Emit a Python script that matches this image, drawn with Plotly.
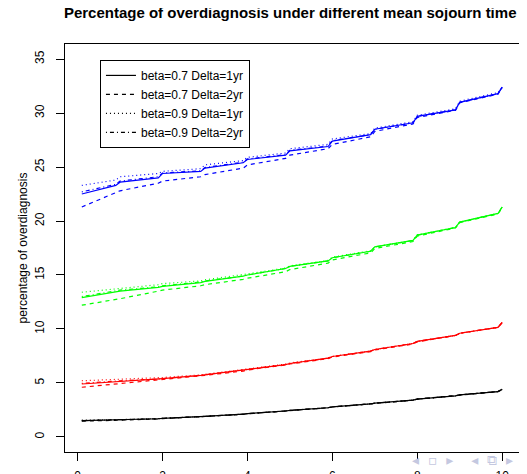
import plotly.graph_objects as go

# x grid (mean sojourn time)
x_vals = [0.1, 0.9, 1.0, 1.9, 2.0, 2.9, 3.0, 3.9, 4.0, 4.9, 5.0,
          5.9, 6.0, 6.9, 7.0, 7.9, 8.0, 8.9, 9.0, 9.9, 10.0]

legend_labels = ["beta=0.7 Delta=1yr", "beta=0.7 Delta=2yr",
                 "beta=0.9 Delta=1yr", "beta=0.9 Delta=2yr"]

black_b07_d1 = [1.5, 1.55, 1.57, 1.68, 1.71, 1.86, 1.9, 2.1, 2.15, 2.4, 2.45, 2.7, 2.78, 3.05, 3.12, 3.4, 3.5, 3.8, 3.9, 4.2, 4.4]
black_b07_d2 = [1.45, 1.52, 1.54, 1.66, 1.69, 1.85, 1.89, 2.09, 2.14, 2.39, 2.44, 2.7, 2.77, 3.05, 3.12, 3.4, 3.5, 3.8, 3.9, 4.2, 4.4]
black_b09_d1 = [1.55, 1.58, 1.6, 1.7, 1.73, 1.87, 1.91, 2.11, 2.16, 2.41, 2.46, 2.71, 2.78, 3.05, 3.12, 3.4, 3.5, 3.8, 3.9, 4.2, 4.4]
black_b09_d2 = [1.5, 1.55, 1.57, 1.68, 1.71, 1.86, 1.9, 2.1, 2.15, 2.4, 2.45, 2.7, 2.78, 3.05, 3.12, 3.4, 3.5, 3.8, 3.9, 4.2, 4.4]

red_b07_d1 = [4.9, 5.1, 5.15, 5.35, 5.4, 5.7, 5.75, 6.15, 6.25, 6.7, 6.8, 7.3, 7.45, 7.95, 8.1, 8.65, 8.85, 9.4, 9.6, 10.15, 10.6]
red_b07_d2 = [4.6, 4.9, 4.95, 5.25, 5.3, 5.6, 5.7, 6.1, 6.2, 6.65, 6.75, 7.25, 7.4, 7.9, 8.05, 8.6, 8.8, 9.4, 9.6, 10.15, 10.6]
red_b09_d1 = [5.2, 5.3, 5.35, 5.45, 5.5, 5.75, 5.8, 6.2, 6.3, 6.75, 6.85, 7.3, 7.45, 7.95, 8.1, 8.65, 8.85, 9.4, 9.6, 10.15, 10.6]
red_b09_d2 = [4.95, 5.15, 5.2, 5.35, 5.4, 5.7, 5.75, 6.15, 6.25, 6.7, 6.8, 7.3, 7.45, 7.95, 8.1, 8.65, 8.85, 9.4, 9.6, 10.15, 10.6]

green_b07_d1 = [12.9, 13.4, 13.5, 13.85, 13.95, 14.3, 14.4, 14.9, 15.0, 15.6, 15.8, 16.3, 16.6, 17.2, 17.6, 18.2, 18.7, 19.4, 19.9, 20.7, 21.3]
green_b07_d2 = [12.2, 12.7, 12.8, 13.5, 13.6, 14.0, 14.1, 14.6, 14.7, 15.3, 15.5, 16.1, 16.4, 17.05, 17.45, 18.1, 18.6, 19.35, 19.85, 20.65, 21.25]
green_b09_d1 = [13.4, 13.7, 13.8, 14.1, 14.2, 14.45, 14.55, 15.0, 15.1, 15.65, 15.85, 16.35, 16.65, 17.25, 17.6, 18.2, 18.7, 19.4, 19.9, 20.7, 21.3]
green_b09_d2 = [13.0, 13.5, 13.6, 13.9, 14.0, 14.35, 14.45, 14.9, 15.0, 15.6, 15.8, 16.3, 16.6, 17.2, 17.6, 18.2, 18.7, 19.4, 19.9, 20.7, 21.3]

blue_b07_d1 = [22.5, 23.3, 23.6, 24.0, 24.4, 24.6, 24.9, 25.4, 25.7, 26.1, 26.5, 26.9, 27.4, 28.0, 28.5, 29.1, 29.7, 30.3, 31.0, 31.8, 32.4]
blue_b07_d2 = [21.3, 22.6, 22.8, 23.5, 23.7, 24.1, 24.3, 24.9, 25.2, 25.8, 26.1, 26.7, 27.1, 27.8, 28.3, 29.0, 29.6, 30.25, 30.95, 31.75, 32.35]
blue_b09_d1 = [23.3, 23.8, 24.1, 24.4, 24.6, 24.85, 25.2, 25.6, 25.9, 26.3, 26.7, 27.1, 27.6, 28.1, 28.6, 29.2, 29.8, 30.4, 31.1, 31.9, 32.4]
blue_b09_d2 = [22.7, 23.4, 23.7, 24.1, 24.45, 24.65, 24.95, 25.45, 25.75, 26.15, 26.55, 26.95, 27.45, 28.0, 28.5, 29.1, 29.7, 30.3, 31.0, 31.8, 32.4]

x_ticks = [0, 2, 4, 6, 8, 10]
y_ticks = [0, 5, 10, 15, 20, 25, 30, 35]

dashes = ["solid", "4px,4px", "1px,3px", "1px,3px,4px,3px"]
groups = [
    ("black", [black_b07_d1, black_b07_d2, black_b09_d1, black_b09_d2]),
    ("#ff0000", [red_b07_d1, red_b07_d2, red_b09_d1, red_b09_d2]),
    ("#00ff00", [green_b07_d1, green_b07_d2, green_b09_d1, green_b09_d2]),
    ("#0000ff", [blue_b07_d1, blue_b07_d2, blue_b09_d1, blue_b09_d2]),
]

fig = go.Figure()
for color, series in groups:
    for i, ys in enumerate(series):
        fig.add_trace(go.Scatter(
            x=x_vals, y=ys, mode="lines",
            line=dict(color=color, width=1.2, dash=dashes[i]),
            name=legend_labels[i],
            showlegend=(color == "black"),
            hoverinfo="skip",
        ))

# the page body has an 8px default margin, so the figure is 8px smaller
font_family = "Liberation Sans, Arial, Helvetica, sans-serif"
fig.update_layout(
    width=519, height=466,
    margin=dict(l=57, r=8, t=36, b=22),
    paper_bgcolor="white", plot_bgcolor="white",
    font=dict(family=font_family, size=12, color="black"),
    title=dict(text="<b>Percentage of overdiagnosis under different mean sojourn time</b>",
               xref="paper", x=0.496, xanchor="center", y=0.99, yanchor="middle",
               font=dict(size=15, color="black")),
    legend=dict(x=0.077, y=0.961, xanchor="left", yanchor="top",
                bordercolor="black", borderwidth=1, bgcolor="white",
                font=dict(size=12), tracegroupgap=0),
    xaxis=dict(range=[-0.296, 10.396], tickvals=x_ticks, ticks="outside",
               ticklen=8, tickcolor="black", showgrid=False, zeroline=False,
               showline=True, linecolor="black", linewidth=1, mirror=True,
               tickfont=dict(size=12), ticklabelstandoff=5, automargin=False),
    yaxis=dict(range=[-1.4, 36.4], tickvals=y_ticks, ticks="outside",
               ticklen=8, tickcolor="black", showgrid=False, zeroline=False,
               showline=True, linecolor="black", linewidth=1, mirror=True,
               tickangle=-90, tickfont=dict(size=12), ticklabelstandoff=7,
               automargin=False,
               title=dict(text="percentage of overdiagnosis", font=dict(size=12), standoff=3)),
    annotations=[dict(text="◂  ▫  ▸    ◂  ⧉  ▸", xref="paper", yref="paper",
                      x=0.991, y=-0.02, xanchor="right", yanchor="middle", showarrow=False,
                      font=dict(family="DejaVu Sans", size=14, color="#c4c8e0"))],
)

fig.write_html("out.html")
